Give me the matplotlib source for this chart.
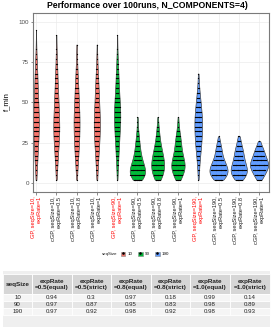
import matplotlib
matplotlib.use("Agg")
import matplotlib.pyplot as plt
import matplotlib.cbook as cbook
import numpy as np
from matplotlib import mlab
from matplotlib.lines import Line2D
from matplotlib.patches import Patch, Rectangle

plt.rcParams["font.family"] = ["Liberation Sans", "DejaVu Sans"]

# bin centres of the dot stacks (f_min values)
bin_centers = list(range(2, 101, 3))

# counts per bin, one list per violin (100 runs each)
counts_gp_10 = [1, 1, 2, 2, 3, 3, 4, 4, 5, 5, 6, 6, 7, 6, 5, 5, 5, 4, 4, 4, 3, 3, 3, 2, 2, 2, 1, 1, 0, 0, 0, 1]
counts_cgp_10_05 = [1, 1, 2, 2, 3, 3, 4, 5, 5, 6, 7, 7, 6, 6, 5, 5, 5, 4, 4, 3, 3, 3, 2, 2, 2, 1, 1, 1, 0, 0, 1]
counts_cgp_10_08 = [1, 1, 2, 2, 3, 4, 4, 5, 5, 6, 6, 6, 7, 6, 6, 5, 5, 4, 4, 4, 3, 3, 2, 2, 1, 1, 1, 0, 1]
counts_cgp_10_1 = [1, 1, 2, 2, 3, 3, 4, 5, 5, 6, 6, 7, 7, 6, 6, 5, 5, 4, 4, 4, 3, 3, 2, 2, 1, 1, 1, 0, 1]
counts_gp_90 = [1, 1, 1, 2, 2, 3, 3, 4, 4, 5, 5, 6, 7, 7, 7, 7, 5, 5, 4, 4, 3, 3, 3, 2, 2, 1, 1, 1, 0, 0, 1]
counts_cgp_90_05 = [10, 18, 17, 14, 10, 8, 6, 5, 4, 3, 2, 1, 1, 1]
counts_cgp_90_08 = [6, 11, 13, 14, 13, 11, 9, 7, 5, 4, 3, 2, 1, 1]
counts_cgp_90_1 = [5, 10, 14, 15, 13, 10, 8, 7, 6, 5, 3, 2, 1, 1]
counts_gp_190 = [1, 1, 2, 2, 3, 4, 5, 6, 7, 7, 8, 8, 8, 8, 7, 6, 5, 4, 3, 2, 1, 1, 1]
counts_cgp_190_05 = [10, 18, 20, 16, 12, 8, 7, 5, 3, 1]
counts_cgp_190_08 = [8, 16, 18, 15, 12, 10, 9, 6, 4, 2]
counts_cgp_190_1 = [5, 11, 16, 20, 17, 13, 10, 6, 2]

x_labels = [
    "GP, seqSize=10,\nexpRate=1", "cGP, seqSize=10,\nexpRate=0.5",
    "cGP, seqSize=10,\nexpRate=0.8", "cGP, seqSize=10,\nexpRate=1",
    "GP, seqSize=90,\nexpRate=1", "cGP, seqSize=90,\nexpRate=0.5",
    "cGP, seqSize=90,\nexpRate=0.8", "cGP, seqSize=90,\nexpRate=1",
    "GP, seqSize=190,\nexpRate=1", "cGP, seqSize=190,\nexpRate=0.5",
    "cGP, seqSize=190,\nexpRate=0.8", "cGP, seqSize=190,\nexpRate=1",
]
seq_sizes = ["10", "10", "10", "10", "90", "90", "90", "90", "190", "190", "190", "190"]
legend_levels = ["10", "90", "190"]

table_header = ["seqSize", "expRate\n=0.5(equal)", "expRate\n=0.5(strict)", "expRate\n=0.8(equal)",
                "expRate\n=0.8(strict)", "expRate\n=1.0(equal)", "expRate\n=1.0(strict)"]
table_rows = [
    ["10", "0.94", "0.3", "0.97", "0.18", "0.99", "0.14"],
    ["90", "0.97", "0.87", "0.95", "0.83", "0.98", "0.89"],
    ["190", "0.97", "0.92", "0.98", "0.92", "0.98", "0.93"],
]

SIZE_COLORS = {"10": "#F8766D", "90": "#00BA38", "190": "#619CFF"}

all_counts = [counts_gp_10, counts_cgp_10_05, counts_cgp_10_08, counts_cgp_10_1,
              counts_gp_90, counts_cgp_90_05, counts_cgp_90_08, counts_cgp_90_1,
              counts_gp_190, counts_cgp_190_05, counts_cgp_190_08, counts_cgp_190_1]
samples = [np.repeat(bin_centers[:len(c)], c).astype(float) for c in all_counts]
positions = np.arange(1, len(samples) + 1)

W, H = 273, 327
fig = plt.figure(figsize=(W / 100, H / 100), dpi=100)
ax = fig.add_axes([33 / W, 1 - 192 / H, 236 / W, 179 / H])


def kde(x, coords):
    return mlab.GaussianKDE(x, 0.36).evaluate(coords)


# ggplot-like "area" scaling: every violin width relative to the largest density
stats = cbook.violin_stats(samples, kde, points=200)
peaks = np.array([s["vals"].max() for s in stats])
widths = 0.9 * peaks / peaks.max()
parts = ax.violin(stats, positions=positions, widths=widths,
                  showmeans=False, showextrema=False, showmedians=False)
for body, size in zip(parts["bodies"], seq_sizes):
    body.set_facecolor(SIZE_COLORS[size])
    body.set_edgecolor("#3a3a3a")
    body.set_linewidth(0.45)
    body.set_alpha(1)
    body.set_zorder(2)

# centred dot stacks
dx = 0.04
for pos, c in zip(positions, all_counts):
    xs, ys = [], []
    for yv, n in zip(bin_centers, c):
        for k in range(n):
            xs.append(pos + (k - (n - 1) / 2) * dx)
            ys.append(yv)
    ax.plot(xs, ys, "o", color="black", ms=0.9, mew=0, zorder=3)

ax.set_xlim(0.852, 12.49)
ax.set_ylim(-5.6, 105.6)
ax.set_yticks([0, 25, 50, 75, 100])
ax.set_yticks([12.5, 37.5, 62.5, 87.5], minor=True)
ax.set_xticks(positions)
ax.set_xticklabels(x_labels, rotation=90, ha="center", va="top", multialignment="right",
                   fontsize=4.1)
for lab, txt in zip(ax.get_xticklabels(), x_labels):
    lab.set_color("red" if txt.startswith("GP") else "#1a1a1a")
ax.tick_params(axis="y", labelsize=4.5, labelcolor="#4d4d4d", length=1.8, width=0.4,
               color="#333333", pad=1)
ax.tick_params(axis="x", length=1.8, width=0.4, color="#333333", pad=1)
ax.tick_params(which="minor", length=0)
ax.grid(True, which="major", color="#ebebeb", lw=0.5, zorder=0)
ax.grid(True, which="minor", axis="y", color="#f2f2f2", lw=0.3, zorder=0)
ax.set_axisbelow(True)
for sp in ax.spines.values():
    sp.set_color("#7a7a7a")
    sp.set_linewidth(0.8)

fig.text(147 / W, 1 - 5.5 / H, "Performance over 100runs, N_COMPONENTS=4)",
         ha="center", va="center", fontsize=6.2, fontweight="bold")
fig.text(6.5 / W, 1 - 102 / H, "f_min", rotation=90, ha="center", va="center", fontsize=5.6)

# legend
fig.text(101.5 / W, 1 - 254 / H, "seqSize", ha="left", va="center", fontsize=3.2, color="#1a1a1a")
handles = [(Patch(facecolor=SIZE_COLORS[s], edgecolor="#888888", lw=0.4),
            Line2D([], [], marker="o", color="black", ms=0.9, ls=""))
           for s in legend_levels]
fig.legend(handles, legend_levels, loc="center left", bbox_to_anchor=(121 / W, 1 - 254 / H),
           ncol=3, frameon=False, fontsize=3.2, handlelength=1.0, handleheight=1.0,
           handletextpad=0.45, columnspacing=1.3, borderpad=0, borderaxespad=0)

# summary table drawn in pixel coordinates
tax = fig.add_axes([0, 0, 1, 1 - 268 / H])
tax.set_xlim(0, W)
tax.set_ylim(H, 268)
tax.axis("off")
tax.add_patch(Rectangle((3, 271), 267, 56, facecolor="#efefef", edgecolor="none"))
col_edges = [3, 32, 72, 111, 151, 190, 230, 270]
row_edges = [274, 294, 301, 308, 314.5]
row_fills = ["#d6d6d6", "#f5f5f5", "#e6e6e6", "#f5f5f5"]
all_rows = [table_header] + table_rows
for r, row in enumerate(all_rows):
    y0, y1 = row_edges[r], row_edges[r + 1]
    for c, txt in enumerate(row):
        x0, x1 = col_edges[c], col_edges[c + 1]
        tax.add_patch(Rectangle((x0, y0), x1 - x0, y1 - y0, facecolor=row_fills[r],
                                edgecolor="white", lw=0.6))
        tax.text((x0 + x1) / 2, (y0 + y1) / 2 + 0.3, txt, ha="center", va="center",
                 fontsize=4.6 if r == 0 else 4.4,
                 fontweight="bold" if r == 0 else "normal", color="#222222",
                 linespacing=1.25)

fig.savefig("out.png", dpi=100)
